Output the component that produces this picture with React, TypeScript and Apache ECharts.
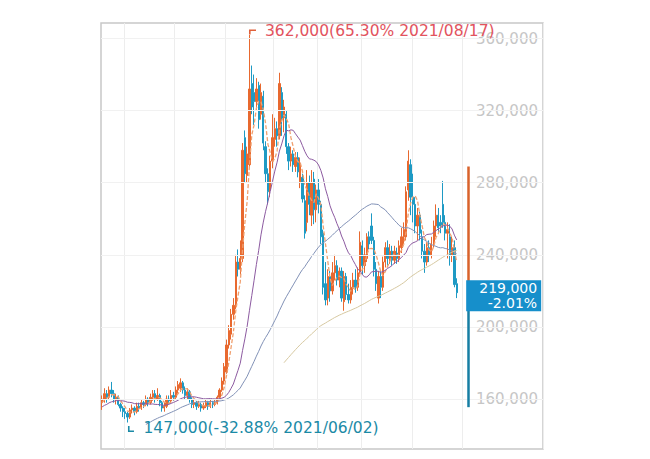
import React, { useEffect, useRef } from "react";
import * as echarts from "echarts";

// ---------- data (prices in thousands of won) ----------
// closes before the visible window (only feed the moving averages)
const priorClosesK = [
  118, 120, 117, 122, 125, 123, 127, 124, 121, 126, 129, 127, 131, 128, 125, 130, 133, 131, 128, 134, 137,
  146, 150, 148, 152, 155, 153, 155, 158, 154, 157, 160, 156, 159, 162, 158, 155, 157, 160, 158,
];

const opensK = [
  158, 160, 163, 161, 165, 163, 160, 161, 157, 155,
  153, 152, 150, 154, 155, 153, 156, 155, 158, 157,
  160, 158, 161, 163, 160, 162, 158, 155, 156, 160,
  159, 162, 161, 165, 166, 169, 165, 162, 164, 160,
  157, 158, 156, 157, 155, 156, 158, 156, 158, 157,
  158, 161, 165, 170, 175, 190, 196, 207, 212, 236,
  232, 238, 305, 284, 290, 335, 330, 325, 334, 318,
  328, 300, 285, 276, 292, 304, 310, 306, 330, 316,
  318, 300, 292, 296, 289, 294, 280, 283, 270, 258,
  280, 262, 282, 265, 276, 268, 252, 224, 216, 228,
  220, 230, 234, 226, 231, 214, 228, 218, 215, 222,
  226, 222, 231, 245, 234, 238, 250, 256, 248, 232,
  216, 228, 222, 236, 244, 238, 242, 237, 241, 238,
  244, 250, 250, 276, 290, 272, 268, 256, 262, 250,
  242, 236, 244, 240, 246, 256, 262, 258, 268, 258,
  252, 250, 240, 244, 224,
];

const closesK = [
  160, 163, 161, 165, 163, 160, 161, 157, 155, 153,
  152, 150, 154, 155, 153, 156, 155, 158, 157, 160,
  158, 161, 163, 160, 162, 158, 155, 156, 160, 159,
  162, 161, 165, 168, 169, 165, 162, 164, 160, 157,
  158, 156, 157, 155, 156, 158, 156, 158, 157, 158,
  161, 165, 170, 178, 190, 198, 207, 212, 236, 232,
  238, 298, 285, 296, 332, 322, 325, 332, 315, 330,
  302, 285, 275, 292, 305, 310, 306, 335, 315, 322,
  300, 292, 296, 290, 294, 286, 291, 271, 252, 280,
  268, 280, 265, 276, 268, 250, 222, 215, 228, 220,
  230, 234, 226, 231, 216, 228, 218, 215, 222, 226,
  222, 230, 247, 234, 240, 250, 246, 248, 232, 224,
  228, 222, 236, 244, 238, 242, 237, 242, 238, 245,
  250, 254, 275, 292, 272, 268, 256, 262, 252, 242,
  236, 244, 240, 246, 256, 262, 255, 256, 258, 252,
  254, 240, 244, 223.5, 219,
];

const lowsK = [
  154, 158, 158, 160, 161, 158, 157, 156, 153, 150,
  149, 147, 149, 152, 151, 152, 153, 154, 155, 156,
  156, 157, 159, 158, 159, 156, 153, 153, 155, 157,
  158, 159, 160, 163, 164, 163, 160, 160, 158, 155,
  155, 154, 155, 153, 154, 155, 154, 155, 155, 156,
  157, 160, 164, 168, 174, 188, 193, 204, 210, 228,
  229, 236, 280, 280, 288, 318, 312, 320, 310, 315,
  298, 280, 268, 272, 288, 300, 300, 304, 306, 308,
  296, 287, 289, 286, 286, 283, 277, 269, 249, 253,
  262, 256, 257, 258, 263, 246, 218, 212, 212, 214,
  218, 226, 223, 222, 214, 209, 215, 213, 213, 218,
  219, 220, 229, 229, 230, 236, 243, 246, 228, 220,
  213, 216, 220, 233, 234, 235, 234, 235, 235, 236,
  241, 246, 248, 270, 262, 258, 252, 248, 248, 238,
  230, 234, 236, 238, 244, 250, 252, 252, 255, 248,
  238, 234, 236, 222, 216,
];

const highsK = [
  162, 166, 165, 167, 169.5, 165, 163, 162, 158, 156,
  155, 153, 155, 157, 156, 158, 158, 160, 159, 162,
  161, 163, 165, 165, 166, 163, 159, 158, 162, 162,
  165, 164, 167, 170, 171.5, 170, 167, 166, 165, 161,
  160, 159, 159, 158, 158, 160, 159, 160, 159, 160,
  162, 166, 172, 180, 193, 201, 210, 216, 240, 243,
  248, 302, 309, 300, 362, 345, 340, 338, 336, 335,
  331, 303, 288, 295, 318, 316, 314, 341, 333, 326,
  320, 302, 300, 298, 297, 297, 294, 285, 273, 287,
  284, 287, 286, 279, 282, 270, 254, 236, 232, 231,
  236, 240, 237, 233, 233, 231, 230, 224, 226, 230,
  232, 233, 253, 248, 244, 252, 253, 263, 250, 236,
  231, 231, 239, 247, 248, 246, 245, 245, 244, 248,
  255, 258, 278, 298, 293, 285, 272, 266, 264, 254,
  246, 247, 248, 250, 259, 268, 266, 262, 281, 262,
  258, 257, 250, 248, 227,
];

const yTickValues = [160000, 200000, 240000, 280000, 320000, 360000];
const maWindows = [5, 20, 60, 120];
const maColors = ["#f0a070", "#8c5aa0", "#8191b6", "#d6c8a0"];
const marketHolidays = [
  "2021-05-19", "2021-08-16", "2021-09-20", "2021-09-21", "2021-09-22",
  "2021-10-04", "2021-10-11", "2021-12-31",
];
const firstDay = "2021-05-17";
const lastAxisDay = "2022-01-03";
const priceLimitUpper = 289000;
const priceLimitLower = 155500;
const Y_MIN = 132300;
const Y_MAX = 368600;
const CATEGORY_COUNT = 192;
const MARKER_INDEX = 159;

const UP = "#e8692f";
const DOWN = "#1e9ac4";

// ---------- helpers ----------
function tradingDays(from: string, to: string, off: string[]): string[] {
  const out: string[] = [];
  const d = new Date(from + "T00:00:00Z");
  const end = new Date(to + "T00:00:00Z");
  while (d <= end) {
    const wd = d.getUTCDay();
    const iso = d.toISOString().slice(0, 10);
    if (wd !== 0 && wd !== 6 && !off.includes(iso)) out.push(iso.replace(/-/g, "/"));
    d.setUTCDate(d.getUTCDate() + 1);
  }
  return out;
}

const fmt = (v: number) => Math.round(v).toLocaleString("en-US");

function buildOption() {
  const dates = tradingDays(firstDay, lastAxisDay, marketHolidays);
  const categories: string[] = [];
  for (let i = 0; i < CATEGORY_COUNT; i++) categories.push(i < dates.length ? dates[i] : "pad" + i);

  const opens = opensK.map((v) => v * 1000);
  const closes = closesK.map((v) => v * 1000);
  const lows = lowsK.map((v) => v * 1000);
  const highs = highsK.map((v) => v * 1000);
  const allCloses = priorClosesK.map((v) => v * 1000).concat(closes);

  const kData = closes.map((c, i) => [opens[i], c, lows[i], highs[i]]);

  const movingAverage = (w: number) =>
    closes.map((_, i) => {
      const j = i + priorClosesK.length;
      if (j + 1 < w) return "-";
      let s = 0;
      for (let k = j - w + 1; k <= j; k++) s += allCloses[k];
      return Math.round(s / w);
    });

  const n = closes.length;
  const last = closes[n - 1];
  const prev = closes[n - 2];
  let hiIdx = 0;
  let loIdx = 0;
  highs.forEach((h, i) => { if (h > highs[hiIdx]) hiIdx = i; });
  lows.forEach((l, i) => { if (l < lows[loIdx]) loIdx = i; });
  const hi = highs[hiIdx];
  const lo = lows[loIdx];
  const pct = (v: number) => ((v / last - 1) * 100).toFixed(2);
  const chg = (((last - prev) / prev) * 100).toFixed(2);

  const isMonthStart = (idx: number) =>
    idx > 0 && idx < dates.length && dates[idx].slice(0, 7) !== dates[idx - 1].slice(0, 7);

  const labelFont = "DejaVu Sans";

  return {
    animation: false,
    backgroundColor: "#ffffff",
    grid: {
      left: 101, right: 107, top: 23, bottom: 10,
      show: true, borderColor: "#c8c8c8", borderWidth: 1.5, backgroundColor: "transparent",
    },
    xAxis: {
      type: "category",
      data: categories,
      boundaryGap: true,
      axisLine: { show: false },
      axisTick: { show: false },
      axisLabel: { show: false },
      splitLine: {
        show: true,
        interval: (idx: number) => isMonthStart(idx),
        lineStyle: { color: "#ededed", width: 1 },
      },
    },
    yAxis: {
      type: "value",
      position: "right",
      min: Y_MIN,
      max: Y_MAX,
      axisLine: { show: false },
      axisTick: { show: false, customValues: yTickValues },
      splitLine: { show: false },
      axisLabel: {
        inside: true,
        customValues: yTickValues,
        formatter: (v: number) => fmt(v),
        color: "#c6c6c6",
        fontSize: 15,
        fontFamily: labelFont,
        margin: 5,
      },
    },
    series: [
      {
        type: "line",
        data: closes.map(() => "-"),
        symbol: "none",
        silent: true,
        z: 0,
        markLine: {
          silent: true,
          symbol: ["none", "none"],
          label: { show: false },
          lineStyle: { color: "#f1f1f1", width: 1, type: "solid" },
          data: yTickValues.map((v) => ({ yAxis: v })),
        },
      },
      {
        type: "candlestick",
        data: kData,
        barWidth: 1.8,
        z: 2,
        itemStyle: {
          color: UP, color0: DOWN, borderColor: UP, borderColor0: DOWN, borderWidth: 1,
        },
      },
      ...maWindows.map((w, k) => ({
        type: "line",
        name: "MA" + w,
        data: movingAverage(w),
        symbol: "none",
        showSymbol: false,
        silent: true,
        z: 3,
        lineStyle: {
          color: maColors[k],
          width: k === 0 ? 1.3 : 1,
          type: k === 0 ? [4, 2] : "solid",
        },
      })),
      {
        type: "line",
        data: closes.map(() => "-"),
        symbol: "none",
        silent: true,
        z: 10,
        markLine: {
          silent: true,
          symbol: ["none", "none"],
          label: { show: false },
          data: [
            [
              { coord: [MARKER_INDEX, priceLimitUpper], lineStyle: { color: "#d9622b", width: 2.5, type: "solid" } },
              { coord: [MARKER_INDEX, last] },
            ],
            [
              { coord: [MARKER_INDEX, last], lineStyle: { color: "#167ea3", width: 2.5, type: "solid" } },
              { coord: [MARKER_INDEX, priceLimitLower] },
            ],
          ],
        },
        markPoint: {
          silent: true,
          data: [
            {
              coord: [hiIdx, hi],
              symbol: "path://M0,0H7V1.6H1.6V5H0Z",
              symbolSize: [7, 5],
              symbolKeepAspect: false,
              symbolOffset: [3, -3],
              itemStyle: { color: "#e0603a" },
              label: {
                show: true,
                position: [16, 2],
                align: "left",
                verticalAlign: "middle",
                formatter: `${fmt(hi)}(${pct(hi)}% ${dates[hiIdx]})`,
                color: "#e2535e",
                fontSize: 15.5,
                fontFamily: labelFont,
              },
            },
            {
              coord: [loIdx, lo],
              symbol: "path://M0,0H1.6V4.4H6V6H0Z",
              symbolSize: [6, 6],
              symbolKeepAspect: false,
              symbolOffset: [3.5, 6.6],
              itemStyle: { color: "#1b8aa6" },
              label: {
                show: true,
                position: [15.5, 1.5],
                align: "left",
                verticalAlign: "middle",
                formatter: `${fmt(lo)}(${pct(lo)}% ${dates[loIdx]})`,
                color: "#1b8aa6",
                fontSize: 15.5,
                fontFamily: labelFont,
              },
            },
            {
              coord: [MARKER_INDEX, last],
              symbol: "rect",
              symbolSize: [75, 31],
              symbolKeepAspect: false,
              symbolOffset: [35.5, 3],
              itemStyle: { color: "#168fcb" },
              label: {
                show: true,
                position: [71, 15.5],
                align: "right",
                verticalAlign: "middle",
                formatter: `${fmt(last)}\n${chg}%`,
                color: "#ffffff",
                fontSize: 14,
                lineHeight: 14.5,
                fontFamily: labelFont,
              },
            },
          ],
        },
      },
    ],
  };
}

export default function App() {
  const ref = useRef<HTMLDivElement>(null);
  useEffect(() => {
    if (!ref.current) return;
    const chart = echarts.init(ref.current, null, { renderer: "svg" });
    chart.setOption(buildOption() as any);
    return () => chart.dispose();
  }, []);
  return (
    <div
      ref={ref}
      style={{ position: "fixed", left: 0, top: 0, width: 650, height: 459, background: "#ffffff" }}
    />
  );
}
